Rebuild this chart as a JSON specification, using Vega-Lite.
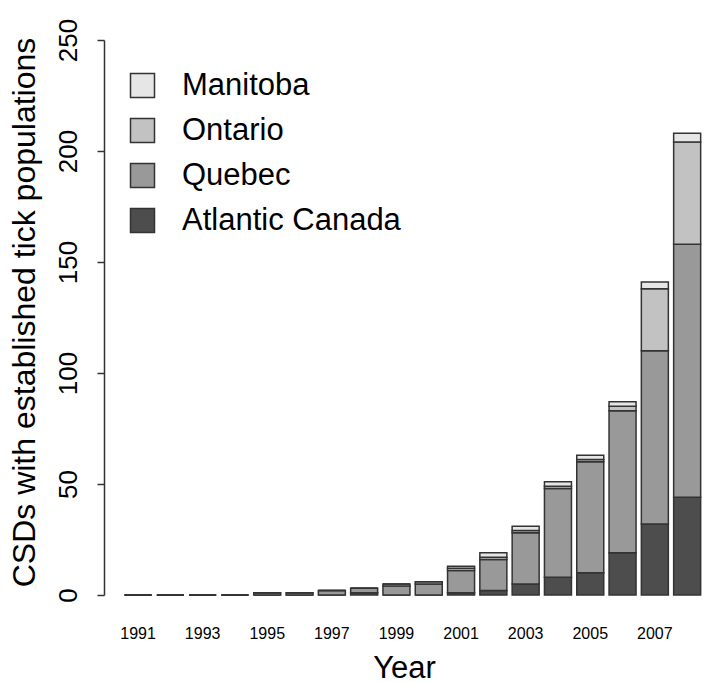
{
  "$schema": "https://vega.github.io/schema/vega-lite/v6.json",
  "autosize": {"type": "none"},
  "padding": {"left": 104, "top": 40, "right": 0, "bottom": 88},
  "width": 600,
  "height": 555,
  "background": "white",
  "config": {
    "view": {"stroke": null},
    "font": "Liberation Sans"
  },
  "datasets": {
    "regions": [
      {"region": "Atlantic Canada", "stackrank": 1},
      {"region": "Quebec", "stackrank": 2},
      {"region": "Ontario", "stackrank": 3},
      {"region": "Manitoba", "stackrank": 4}
    ]
  },
  "data": {
    "values": [
      {"year": "1991", "region": "Atlantic Canada", "count": 0},
      {"year": "1991", "region": "Quebec", "count": 0},
      {"year": "1991", "region": "Ontario", "count": 0},
      {"year": "1991", "region": "Manitoba", "count": 0},
      {"year": "1992", "region": "Atlantic Canada", "count": 0},
      {"year": "1992", "region": "Quebec", "count": 0},
      {"year": "1992", "region": "Ontario", "count": 0},
      {"year": "1992", "region": "Manitoba", "count": 0},
      {"year": "1993", "region": "Atlantic Canada", "count": 0},
      {"year": "1993", "region": "Quebec", "count": 0},
      {"year": "1993", "region": "Ontario", "count": 0},
      {"year": "1993", "region": "Manitoba", "count": 0},
      {"year": "1994", "region": "Atlantic Canada", "count": 0},
      {"year": "1994", "region": "Quebec", "count": 0},
      {"year": "1994", "region": "Ontario", "count": 0},
      {"year": "1994", "region": "Manitoba", "count": 0},
      {"year": "1995", "region": "Atlantic Canada", "count": 0},
      {"year": "1995", "region": "Quebec", "count": 1},
      {"year": "1995", "region": "Ontario", "count": 0},
      {"year": "1995", "region": "Manitoba", "count": 0},
      {"year": "1996", "region": "Atlantic Canada", "count": 0},
      {"year": "1996", "region": "Quebec", "count": 1},
      {"year": "1996", "region": "Ontario", "count": 0},
      {"year": "1996", "region": "Manitoba", "count": 0},
      {"year": "1997", "region": "Atlantic Canada", "count": 0},
      {"year": "1997", "region": "Quebec", "count": 2},
      {"year": "1997", "region": "Ontario", "count": 0},
      {"year": "1997", "region": "Manitoba", "count": 0},
      {"year": "1998", "region": "Atlantic Canada", "count": 1},
      {"year": "1998", "region": "Quebec", "count": 2},
      {"year": "1998", "region": "Ontario", "count": 0},
      {"year": "1998", "region": "Manitoba", "count": 0},
      {"year": "1999", "region": "Atlantic Canada", "count": 0},
      {"year": "1999", "region": "Quebec", "count": 4},
      {"year": "1999", "region": "Ontario", "count": 1},
      {"year": "1999", "region": "Manitoba", "count": 0},
      {"year": "2000", "region": "Atlantic Canada", "count": 0},
      {"year": "2000", "region": "Quebec", "count": 5},
      {"year": "2000", "region": "Ontario", "count": 1},
      {"year": "2000", "region": "Manitoba", "count": 0},
      {"year": "2001", "region": "Atlantic Canada", "count": 1},
      {"year": "2001", "region": "Quebec", "count": 10},
      {"year": "2001", "region": "Ontario", "count": 1},
      {"year": "2001", "region": "Manitoba", "count": 1},
      {"year": "2002", "region": "Atlantic Canada", "count": 2},
      {"year": "2002", "region": "Quebec", "count": 14},
      {"year": "2002", "region": "Ontario", "count": 1},
      {"year": "2002", "region": "Manitoba", "count": 2},
      {"year": "2003", "region": "Atlantic Canada", "count": 5},
      {"year": "2003", "region": "Quebec", "count": 23},
      {"year": "2003", "region": "Ontario", "count": 1},
      {"year": "2003", "region": "Manitoba", "count": 2},
      {"year": "2004", "region": "Atlantic Canada", "count": 8},
      {"year": "2004", "region": "Quebec", "count": 40},
      {"year": "2004", "region": "Ontario", "count": 1},
      {"year": "2004", "region": "Manitoba", "count": 2},
      {"year": "2005", "region": "Atlantic Canada", "count": 10},
      {"year": "2005", "region": "Quebec", "count": 50},
      {"year": "2005", "region": "Ontario", "count": 1},
      {"year": "2005", "region": "Manitoba", "count": 2},
      {"year": "2006", "region": "Atlantic Canada", "count": 19},
      {"year": "2006", "region": "Quebec", "count": 64},
      {"year": "2006", "region": "Ontario", "count": 2},
      {"year": "2006", "region": "Manitoba", "count": 2},
      {"year": "2007", "region": "Atlantic Canada", "count": 32},
      {"year": "2007", "region": "Quebec", "count": 78},
      {"year": "2007", "region": "Ontario", "count": 28},
      {"year": "2007", "region": "Manitoba", "count": 3},
      {"year": "2008", "region": "Atlantic Canada", "count": 44},
      {"year": "2008", "region": "Quebec", "count": 114},
      {"year": "2008", "region": "Ontario", "count": 46},
      {"year": "2008", "region": "Manitoba", "count": 4}
    ]
  },
  "transform": [
    {"lookup": "region", "from": {"data": {"name": "regions"}, "key": "region", "fields": ["stackrank"]}}
  ],
  "mark": {"type": "bar", "stroke": "#333333", "strokeWidth": 1.5},
  "encoding": {
    "x": {
      "field": "year",
      "type": "ordinal",
      "scale": {"paddingInner": 0.164, "paddingOuter": 0.37, "align": 0.86},
      "axis": {
        "title": "Year",
        "values": ["1991", "1993", "1995", "1997", "1999", "2001", "2003", "2005", "2007"],
        "labelAngle": 0,
        "labelFontSize": 16,
        "labelColor": "black",
        "labelPadding": 30,
        "labelBaseline": "top",
        "ticks": false,
        "domain": false,
        "titleFontSize": 31,
        "titleFontWeight": "normal",
        "titleColor": "black",
        "titlePadding": 12
      }
    },
    "y": {
      "field": "count",
      "type": "quantitative",
      "stack": "zero",
      "scale": {"domain": [0, 250], "nice": false},
      "axis": {
        "title": "CSDs with established tick populations",
        "values": [0, 50, 100, 150, 200, 250],
        "grid": false,
        "domainColor": "#333333",
        "domainWidth": 1.5,
        "tickColor": "#333333",
        "tickWidth": 1.5,
        "tickSize": 7,
        "labelAngle": -90,
        "labelAlign": "center",
        "labelBaseline": "bottom",
        "labelFontSize": 26,
        "labelColor": "black",
        "labelPadding": 16,
        "titleFontSize": 32,
        "titleFontWeight": "normal",
        "titleColor": "black",
        "titleX": -95,
        "titleY": 272,
        "titleAngle": -90,
        "titleBaseline": "top",
        "titleAlign": "center"
      }
    },
    "color": {
      "field": "region",
      "type": "nominal",
      "sort": ["Manitoba", "Ontario", "Quebec", "Atlantic Canada"],
      "scale": {
        "domain": ["Manitoba", "Ontario", "Quebec", "Atlantic Canada"],
        "range": ["#e6e6e6", "#c2c2c2", "#999999", "#4d4d4d"]
      },
      "legend": {
        "title": null,
        "orient": "none",
        "legendX": 23,
        "legendY": 30,
        "symbolType": "square",
        "symbolSize": 576,
        "symbolStrokeColor": "#333333",
        "symbolStrokeWidth": 1.5,
        "labelFontSize": 31,
        "labelColor": "black",
        "labelOffset": 24,
        "rowPadding": 13,
        "labelLimit": 400
      }
    },
    "order": {"field": "stackrank", "type": "quantitative", "sort": "ascending"}
  }
}
